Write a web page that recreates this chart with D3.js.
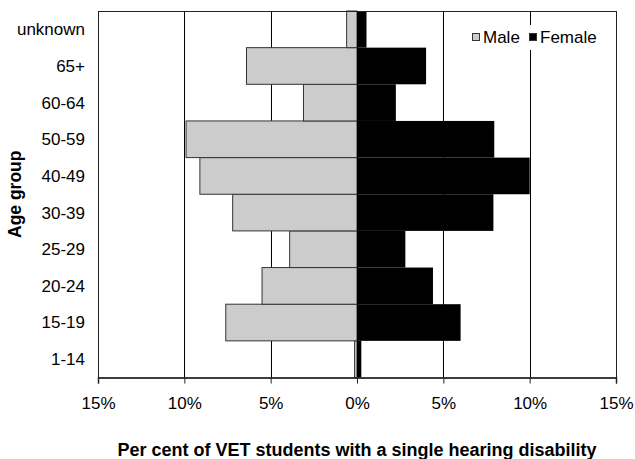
<!DOCTYPE html>
<html>
<head>
<meta charset="utf-8">
<script src="https://cdn.jsdelivr.net/npm/d3@7"></script>
<style>
  body { margin: 0; background: #fff; }
  svg { display: block; font-family: "Liberation Sans", Arial, sans-serif; }
</style>
</head>
<body>
<div id="chart"></div>
<script>
// age groups, bottom to top
const ageGroups = ["1-14", "15-19", "20-24", "25-29", "30-39", "40-49", "50-59", "60-64", "65+", "unknown"];
const male = [0.14, 7.6, 5.5, 3.9, 7.2, 9.1, 9.9, 3.1, 6.4, 0.6];
const female = [0.25, 6.0, 4.4, 2.8, 7.9, 10.0, 7.95, 2.25, 4.0, 0.55];
const xTicks = [-15, -10, -5, 0, 5, 10, 15];
const legendItems = [{ name: "Male", fill: "#cccccc" }, { name: "Female", fill: "#000" }];

const width = 635, height = 459;
const plotLeft = 98, plotRight = 616, plotTop = 11, plotBottom = 377.5;

const data = ageGroups.map((g, i) => ({ group: g, male: male[i], female: female[i] }));

const x = d3.scaleLinear().domain([-15, 15]).range([plotLeft, plotRight]);
const y = d3.scaleBand().domain(ageGroups.slice().reverse()).range([plotTop, plotBottom]).padding(0);

const svg = d3.select("#chart").append("svg")
  .attr("width", width)
  .attr("height", height);

// vertical gridlines
svg.append("g")
  .selectAll("line")
  .data(xTicks)
  .join("line")
  .attr("x1", d => Math.round(x(d)) + 0.5)
  .attr("x2", d => Math.round(x(d)) + 0.5)
  .attr("y1", plotTop)
  .attr("y2", plotBottom)
  .attr("stroke", "#000")
  .attr("stroke-width", 1);

// male bars (left)
svg.append("g")
  .selectAll("rect")
  .data(data)
  .join("rect")
  .attr("x", d => x(-d.male))
  .attr("y", d => y(d.group))
  .attr("width", d => x(0) - x(-d.male))
  .attr("height", y.bandwidth())
  .attr("fill", "#cccccc")
  .attr("stroke", "#333")
  .attr("stroke-width", 1);

// female bars (right)
svg.append("g")
  .selectAll("rect")
  .data(data)
  .join("rect")
  .attr("x", x(0))
  .attr("y", d => y(d.group))
  .attr("width", d => x(d.female) - x(0))
  .attr("height", y.bandwidth())
  .attr("fill", "#000");

// plot border
svg.append("rect")
  .attr("x", plotLeft + 0.5)
  .attr("y", plotTop + 0.5)
  .attr("width", plotRight - plotLeft)
  .attr("height", plotBottom - plotTop)
  .attr("fill", "none")
  .attr("stroke", "#222")
  .attr("stroke-width", 1);

// x axis
const xAxis = svg.append("g")
  .attr("transform", `translate(0,${plotBottom})`)
  .call(d3.axisBottom(x).tickValues(xTicks).tickSize(6).tickPadding(13)
    .tickFormat(d => Math.abs(d) + "%"));
xAxis.select(".domain").attr("stroke", "#222").attr("stroke-width", 1.5);
xAxis.selectAll(".tick line").attr("stroke", "#222");
xAxis.selectAll("text")
  .attr("font-size", 17)
  .attr("font-family", "Liberation Sans, Arial, sans-serif")
  .attr("fill", "#000");

// y category labels
svg.append("g")
  .selectAll("text")
  .data(ageGroups)
  .join("text")
  .attr("x", plotLeft - 13)
  .attr("y", d => y(d) + y.bandwidth() / 2)
  .attr("dy", "0.35em")
  .attr("text-anchor", "end")
  .attr("font-size", 17)
  .text(d => d);

// legend
const legend = svg.append("g").attr("transform", "translate(467,25)");
legend.append("rect")
  .attr("width", 134).attr("height", 25)
  .attr("fill", "#fff");
const li = legend.selectAll("g.item")
  .data(legendItems)
  .join("g")
  .attr("class", "item")
  .attr("transform", (d, i) => `translate(${i === 0 ? 5 : 62},0)`);
li.append("rect")
  .attr("x", 0.5).attr("y", 8.5)
  .attr("width", 7).attr("height", 7)
  .attr("fill", d => d.fill)
  .attr("stroke", "#333");
li.append("text")
  .attr("x", 11)
  .attr("y", 17.5)
  .attr("font-size", 17)
  .text(d => d.name);

// axis titles
svg.append("text")
  .attr("x", (plotLeft + plotRight) / 2)
  .attr("y", 456)
  .attr("text-anchor", "middle")
  .attr("font-size", 18)
  .attr("font-weight", "bold")
  .text("Per cent of VET students with a single hearing disability");

svg.append("text")
  .attr("transform", `translate(21,${(plotTop + plotBottom) / 2}) rotate(-90)`)
  .attr("text-anchor", "middle")
  .attr("font-size", 17.5)
  .attr("font-weight", "bold")
  .text("Age group");
</script>
</body>
</html>
